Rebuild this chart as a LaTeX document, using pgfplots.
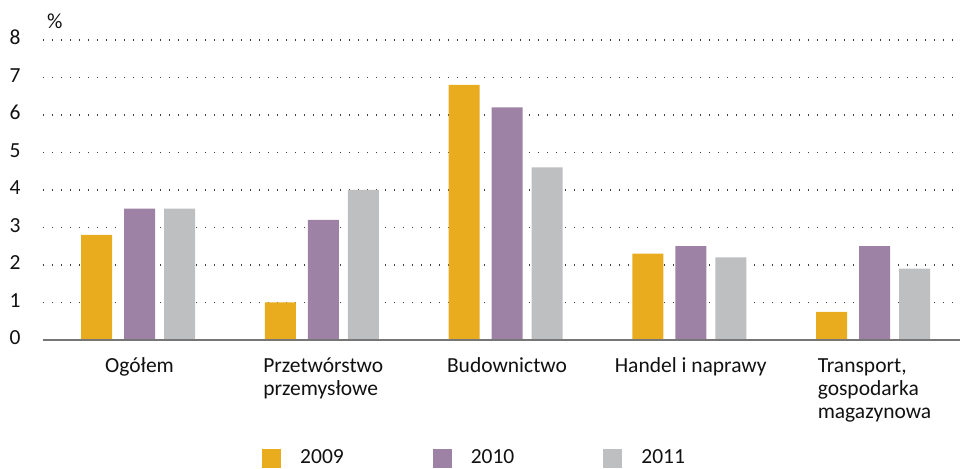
\documentclass[border=0pt]{standalone}
\usepackage{pgfplots}
\pgfplotsset{compat=1.18}
\usepackage{fontspec}
\setmainfont{Carlito}
\definecolor{c09}{HTML}{E8AC1E}
\definecolor{c10}{HTML}{9E82A5}
\definecolor{c11}{HTML}{BEBFC1}
\definecolor{axg}{HTML}{767676}
\definecolor{txt}{HTML}{111111}
\begin{document}
\fontsize{21.5}{23}\selectfont
\begin{tikzpicture}
\begin{axis}[
  at={(0pt,0pt)}, anchor=south west,
  scale only axis, width=917pt, height=300pt,
  xmin=-0.5252, xmax=4.4653, ymin=0, ymax=8,
  clip=false,
  axis line style={draw=none},
  tick style={draw=none},
  major tick length=0pt,
  ytick={0,1,2,3,4,5,6,7,8},
  ymajorgrids,
  grid style={draw=black!75, line width=1.3pt, dash pattern=on 1.3pt off 7.7pt, line cap=butt},
  /pgf/number format/assume math mode=true,
  yticklabel style={anchor=center, inner sep=0pt, xshift=-28pt, text=txt, font=\fontsize{21.5}{23}\selectfont},
  xtick={0,1,2,3,4},
  xticklabels={Ogółem, {Przetwórstwo\\przemysłowe}, Budownictwo, {Handel i naprawy}, {Transport,\\gospodarka\\magazynowa}},
  typeset ticklabels with strut,
  xticklabel style={align=left, anchor=north, inner sep=0pt, yshift=-16pt, text=txt, font=\fontsize{21.5}{23}\selectfont},
  ybar, bar width=31pt,
  legend columns=3,
  legend style={at={(219pt,-118pt)}, anchor=west, draw=none, inner sep=0pt, font=\fontsize{21.5}{23}\selectfont, text=txt,
    nodes={inner sep=0pt, anchor=west},
    /tikz/every odd column/.append style={column sep=19pt},
    /tikz/every even column/.append style={column sep=89pt}},
  legend image code/.code={\fill[#1,draw=none] (0pt,-9.5pt) rectangle (19pt,9.5pt);},
]
\addplot[fill=c09, draw=none, bar shift=-43pt] coordinates {(0,2.8) (1,1.0) (2,6.8) (3,2.3) (4,0.75)};
\addplot[fill=c10, draw=none, bar shift=0pt] coordinates {(0,3.5) (1,3.2) (2,6.2) (3,2.5) (4,2.5)};
\addplot[fill=c11, draw=none, bar shift=40pt] coordinates {(0,3.5) (1,4.0) (2,4.6) (3,2.2) (4,1.9)};
\legend{2009,2010,2011}
\draw[axg, line width=2pt] (rel axis cs:0,0) -- (rel axis cs:1,0);
\node[anchor=base west, inner sep=0pt, text=txt, font=\fontsize{21.5}{23}\selectfont] at (rel axis cs:0,1) [xshift=4pt, yshift=11pt] {\%};
\end{axis}
\pgfresetboundingbox
\useasboundingbox (-43pt,-128pt) rectangle (917pt,340pt);
\end{tikzpicture}
\end{document}
